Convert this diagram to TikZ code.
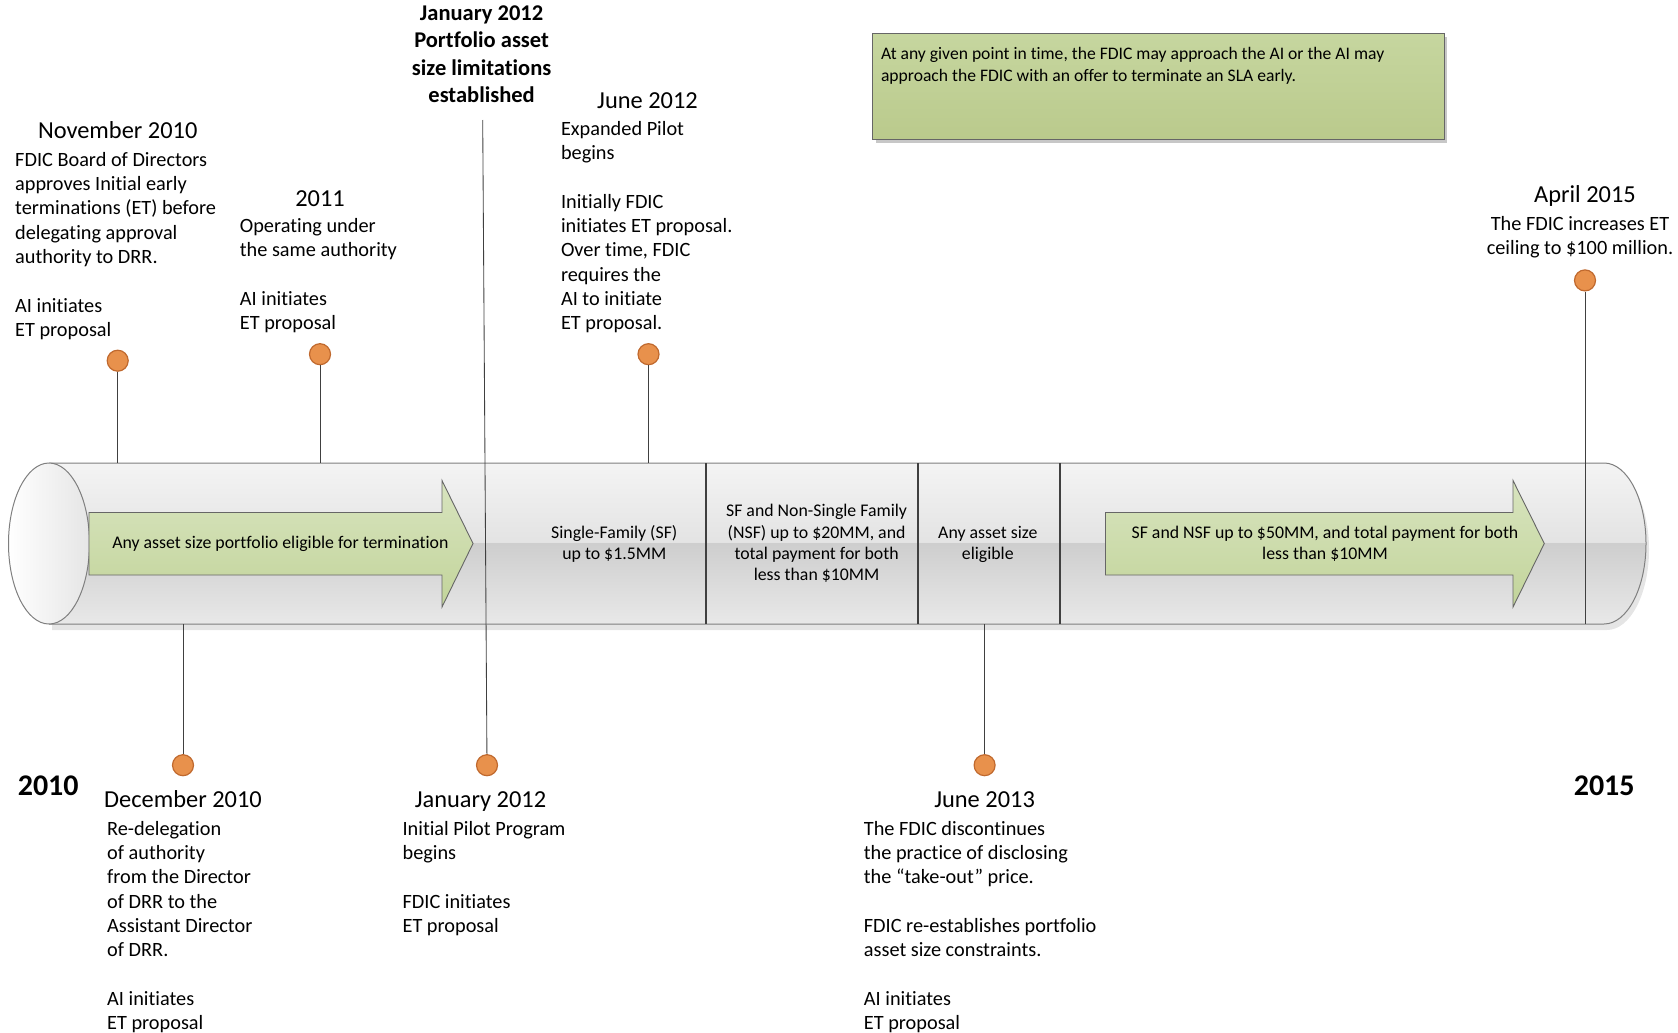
\documentclass[tikz,border=0pt]{standalone}
\usepackage{fontspec}
\setmainfont{Carlito}[Ligatures={NoCommon}]
\definecolor{dotfill}{HTML}{E8914C}
\definecolor{dotline}{HTML}{C0692E}
\definecolor{arrtop}{HTML}{D8E4BF}
\definecolor{arrbot}{HTML}{C2D49A}
\definecolor{boxtop}{HTML}{C6D69F}
\definecolor{boxbot}{HTML}{BACA8C}
\definecolor{lineg}{HTML}{404040}
\definecolor{cylline}{HTML}{7F7F7F}
\definecolor{cylA}{HTML}{F4F4F4}
\definecolor{cylB}{HTML}{E3E3E3}
\definecolor{cylC}{HTML}{CECECE}
\definecolor{cylD}{HTML}{E9E9E9}
\newcommand\myBody{\fontsize{20.3}{24.35}\selectfont}
\newcommand\myHead{\fontsize{24.4}{29}\selectfont}
\newcommand\mySmall{\fontsize{17.8}{21.4}\selectfont}
\newcommand\myNote{\fontsize{17.6}{22.5}\selectfont}
\newcommand\myBold{\fontsize{22.5}{27.5}\selectfont\bfseries}
\newcommand\myYear{\fontsize{30}{36}\selectfont\bfseries}
\tikzset{
  bodytxt/.style={anchor=north west, inner sep=0pt, align=left, font=\myBody, text=black},
  headtxt/.style={anchor=base, inner sep=0pt, font=\myHead, text=black},
  cyltxt/.style={anchor=north, inner sep=0pt, align=center, font=\mySmall, text=black},
  yeartxt/.style={anchor=base, inner sep=0pt, font=\myYear, text=black},
  dot/.style={circle, fill=dotfill, draw=dotline, line width=1.2pt, minimum size=21pt, inner sep=0pt},
  conn/.style={draw=lineg, line width=0.85pt},
  divider/.style={draw=lineg, line width=2pt},
  greenarrow/.style={top color=arrtop, bottom color=arrbot, draw=black!60, line width=0.9pt},
}
\begin{document}
\begin{tikzpicture}[x=1pt, y=-1pt]
\useasboundingbox (0,0) rectangle (1678,1033);

% ---- note box top right
\fill[black!22] (875.5,37) rectangle (1447,142.5);
\node (note) [draw=black!60, line width=1pt, top color=boxtop, bottom color=boxbot,
  anchor=north west, minimum width=571.5pt, minimum height=106pt, inner sep=0pt] at (872.2,33.2) {};
\node (notetxt) [anchor=north west, inner sep=0pt, align=left, font=\myNote] at (880.8,43.4)
  {\strut At any given point in time, the FDIC may approach the AI or the AI may\\approach the FDIC with an offer to terminate an SLA early.};

% ---- cylinder shadow
\begin{scope}[shift={(3,6)}]
\fill[black!10] (49,463) -- (1604,463) arc[start angle=-90, end angle=90, x radius=42, y radius=80.5] -- (49,624) -- cycle;
\end{scope}
% ---- cylinder body
\begin{scope}
\clip (49,463) -- (1604,463) arc[start angle=-90, end angle=90, x radius=42, y radius=80.5] -- (49,624) -- cycle;
\shade[top color=cylA, bottom color=cylB] (0,462) rectangle (1700,543.5);
\shade[top color=cylC, bottom color=cylD] (0,543.5) rectangle (1700,626);
\end{scope}
\draw[cylline, line width=1pt] (49,463) -- (1604,463) arc[start angle=-90, end angle=90, x radius=42, y radius=80.5] -- (49,624);
% left cap
\draw[cylline, line width=1pt, left color=white, right color=black!10] (49,543.5) ellipse [x radius=40.5, y radius=80.5];

% ---- dividers
\draw[divider] (706.3,463) -- (706.3,624);
\draw[divider] (918.2,463) -- (918.2,624);
\draw[divider] (1059.5,463) -- (1059.5,624);

% ---- green arrows
\path[greenarrow] (89,512.5) -- (442,512.5) -- (442,480.5) -- (473,543.5) -- (442,607) -- (442,575) -- (89,575) -- cycle;
\path[greenarrow] (1105.5,512.5) -- (1513,512.5) -- (1513,480.5) -- (1544.3,543.5) -- (1513,607) -- (1513,575) -- (1105.5,575) -- cycle;
\node (arr1txt) [anchor=base, inner sep=0pt, font=\mySmall] at (280.4,548.6) {Any asset size portfolio eligible for termination};
\node (arr2txt) [cyltxt] at (1325,523) {\strut SF and NSF up to \$50MM, and total payment for both\\less than \$10MM};

% ---- cylinder texts
\node (seg1) [cyltxt] at (614.3,523) {\strut Single-Family (SF)\\up to \$1.5MM};
\node (seg2) [cyltxt] at (816.6,501.5) {\strut SF and Non-Single Family\\(NSF) up to \$20MM, and\\total payment for both\\less than \$10MM};
\node (seg3) [cyltxt] at (987.8,523) {\strut Any asset size\\eligible};

% ---- dots
\node (d1) [dot] at (117.7,360.7) {};
\node (d2) [dot] at (320,354.2) {};
\node (d3) [dot] at (648.5,354.2) {};
\node (d4) [dot] at (1585,280.4) {};
\node (d5) [dot] at (183,765.2) {};
\node (d6) [dot] at (487,765.2) {};
\node (d7) [dot] at (984.6,765.2) {};

% ---- connector end points
\coordinate (t1) at (117.7,463);
\coordinate (t2) at (320,463);
\coordinate (t3) at (648.5,463);
\coordinate (b4) at (1585,624);
\coordinate (b5) at (183,624);
\coordinate (jtop) at (482.7,120);
\coordinate (b7) at (984.6,624);

\draw[conn] (d1) -- (t1);
\draw[conn] (d2) -- (t2);
\draw[conn] (d3) -- (t3);
\draw[conn] (d4) -- (b4);
\draw[conn] (b5) -- (d5);
\draw[conn] (jtop) -- (d6);
\draw[conn] (b7) -- (d7);

% ---- top labels
\node (jtitle) [anchor=north, inner sep=0pt, align=center, font=\myBold] at (481.6,1.05)
  {\strut January 2012\\Portfolio asset\\size limitations\\established};

\node (h1) [headtxt] at (117.7,138.6) {November 2010};
\node (t1txt) [bodytxt] at (15,148.9) {\strut FDIC Board of Directors\\approves Initial early\\terminations (ET) before\\delegating approval\\authority to DRR.\\~\\AI initiates\\ET proposal};

\node (h2) [headtxt] at (320,206) {2011};
\node (t2txt) [bodytxt] at (239.7,215.3) {\strut Operating under\\the same authority\\~\\AI initiates\\ET proposal};

\node (h3) [headtxt] at (647.5,108.6) {June 2012};
\node (t3txt) [bodytxt] at (560.8,117.9) {\strut Expanded Pilot\\begins\\~\\Initially FDIC\\initiates ET proposal.\\Over time, FDIC\\requires the\\AI to initiate\\ET proposal.};

\node (h4) [headtxt] at (1585,202.8) {April 2015};
\node (t4txt) [anchor=north, inner sep=0pt, align=center, font=\myBody] at (1580,213.2) {\strut The FDIC increases ET\\ceiling to \$100 million.};

% ---- bottom labels
\node (y2010) [yeartxt] at (48.2,795) {2010};
\node (y2015) [yeartxt] at (1604.2,795) {2015};

\node (h5) [headtxt] at (183,807.4) {December 2010};
\node (t5txt) [bodytxt] at (107,817.8) {\strut Re-delegation\\of authority\\from the Director\\of DRR to the\\Assistant Director\\of DRR.\\~\\AI initiates\\ET proposal};

\node (h6) [headtxt] at (480.5,807.4) {January 2012};
\node (t6txt) [bodytxt] at (402.4,817.8) {\strut Initial Pilot Program\\begins\\~\\FDIC initiates\\ET proposal};

\node (h7) [headtxt] at (984.6,807.4) {June 2013};
\node (t7txt) [bodytxt] at (863.7,817.8) {\strut The FDIC discontinues\\the practice of disclosing\\the “take-out” price.\\~\\FDIC re-establishes portfolio\\asset size constraints.\\~\\AI initiates\\ET proposal};
\end{tikzpicture}
\end{document}
